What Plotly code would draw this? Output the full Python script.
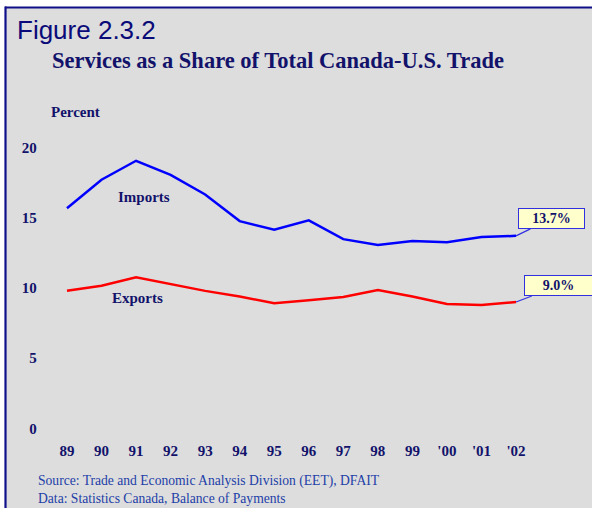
import plotly.graph_objects as go

years = ["89", "90", "91", "92", "93", "94", "95", "96", "97", "98", "99", "'00", "'01", "'02"]
imports = [15.67, 17.69, 19.04, 18.04, 16.64, 14.75, 14.13, 14.8, 13.47, 13.06, 13.33, 13.25, 13.62, 13.7]
exports = [9.79, 10.15, 10.76, 10.26, 9.79, 9.39, 8.91, 9.12, 9.36, 9.85, 9.39, 8.86, 8.78, 9.0]
y_ticks = [0, 5, 10, 15, 20]

W, H = 592, 508
NAVY = "#12126B"
SERIF = "Liberation Serif, Times New Roman, serif"
SANS = "Liberation Sans, Arial, sans-serif"
BG = "#DDDDDD"

xs = list(range(len(years)))

def px(x):
    return x / W

def py(y):
    return 1 - y / H

fig = go.Figure()
fig.add_trace(go.Scatter(x=xs, y=imports, mode="lines", line=dict(color="#0000FF", width=2.5),
                         hoverinfo="skip", showlegend=False))
fig.add_trace(go.Scatter(x=xs, y=exports, mode="lines", line=dict(color="#FF0000", width=2.5),
                         hoverinfo="skip", showlegend=False))

fig.update_layout(
    width=W, height=H,
    margin=dict(l=0, r=0, t=0, b=0),
    paper_bgcolor="white",
    plot_bgcolor="rgba(0,0,0,0)",
    showlegend=False,
    xaxis=dict(
        domain=[px(49.7), px(533.3)],
        range=[-0.5, len(years) - 0.5],
        tickmode="array", tickvals=xs, ticktext=years,
        showgrid=False, zeroline=False, showline=False, ticks="",
        tickfont=dict(family=SERIF, size=15, color=NAVY, weight="bold"),
        ticklabelstandoff=2,
        fixedrange=True,
    ),
    yaxis=dict(
        domain=[py(438.4), py(133.2)],
        range=[-0.7, 21],
        tickmode="array", tickvals=y_ticks, ticktext=[str(v) for v in y_ticks],
        showgrid=False, zeroline=False, showline=False, ticks="",
        tickfont=dict(family=SERIF, size=15, color=NAVY, weight="bold"),
        ticklabelstandoff=12,
        fixedrange=True,
    ),
)

shapes = [
    dict(type="rect", xref="paper", yref="paper", x0=px(5), x1=1, y0=0, y1=py(7),
         fillcolor=BG, line=dict(width=0), layer="below"),
    dict(type="line", xref="paper", yref="paper", x0=px(5), x1=1, y0=py(7.5), y1=py(7.5),
         line=dict(color="#10108A", width=2.2), layer="below"),
    dict(type="line", xref="paper", yref="paper", x0=px(5.5), x1=px(5.5), y0=0, y1=py(6.5),
         line=dict(color="#10108A", width=2.2), layer="below"),
]
fig.update_layout(shapes=shapes)

ann = []
ann.append(dict(text="Figure 2.3.2", xref="paper", yref="paper", x=px(15), y=py(30),
                xanchor="left", yanchor="middle", showarrow=False,
                font=dict(family=SANS, size=26, color="#0A0A78")))
ann.append(dict(text="<b>Services as a Share of Total Canada-U.S. Trade</b>", xref="paper", yref="paper",
                x=px(50), y=py(60), xanchor="left", yanchor="middle", showarrow=False,
                font=dict(family=SERIF, size=22.5, color=NAVY)))
ann.append(dict(text="<b>Percent</b>", xref="paper", yref="paper",
                x=px(49), y=py(112), xanchor="left", yanchor="middle", showarrow=False,
                font=dict(family=SERIF, size=15, color=NAVY)))
ann.append(dict(text="Source: Trade and Economic Analysis Division (EET), DFAIT<br>Data: Statistics Canada, Balance of Payments",
                xref="paper", yref="paper", x=px(36), y=py(489), xanchor="left", yanchor="middle",
                align="left", showarrow=False,
                font=dict(family=SERIF, size=13.6, color="#2240A8")))
ann.append(dict(text="<b>Imports</b>", xref="x", yref="y", x=2.23, y=16.49, showarrow=False,
                font=dict(family=SERIF, size=15, color=NAVY)))
ann.append(dict(text="<b>Exports</b>", xref="x", yref="y", x=2.03, y=9.26, showarrow=False,
                font=dict(family=SERIF, size=15, color=NAVY)))

for series, ax, ay, wbox in [(imports, 35, -17, 63), (exports, 42, -16, 65)]:
    ann.append(dict(text="<b>%.1f%%</b>" % series[-1], xref="x", yref="y", x=xs[-1], y=series[-1],
                    showarrow=True, arrowhead=0, arrowwidth=1.2, arrowcolor="#3030E0",
                    ax=ax, ay=ay, width=wbox, height=17, bgcolor="#FFFFCC", bordercolor="#3030E0",
                    borderwidth=1, borderpad=1, align="center",
                    font=dict(family=SERIF, size=14, color=NAVY)))

fig.update_layout(annotations=ann)
fig.write_html("out.html", config={"displayModeBar": False},
               post_script="document.body.style.margin='0';document.body.style.overflow='hidden';")
